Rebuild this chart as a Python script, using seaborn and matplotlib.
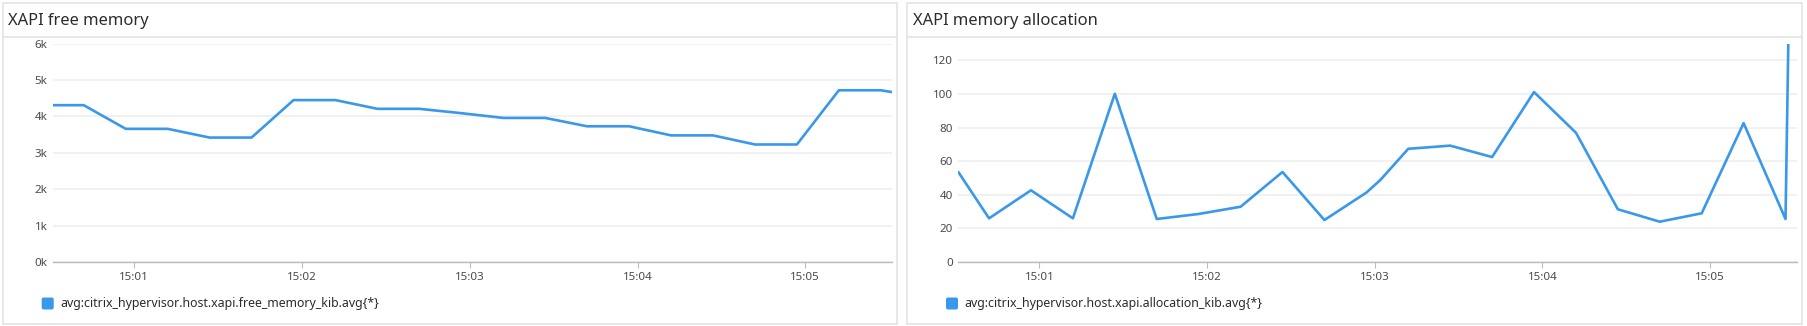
import matplotlib
matplotlib.use("Agg")
import matplotlib.pyplot as plt
import matplotlib.dates as mdates
from matplotlib.patches import FancyBboxPatch, Rectangle
from matplotlib.lines import Line2D
from matplotlib.transforms import IdentityTransform
from matplotlib.ticker import FuncFormatter
import pandas as pd
import seaborn as sns

# ---------------- data ----------------
base = "2024-01-01 15:00:00"
free_secs = [31, 42, 57, 72, 87, 102, 117, 132, 147, 162, 177, 192, 207,
             222, 237, 252, 267, 282, 297, 312, 327, 331]
free_kib = [4310, 4310, 3660, 3660, 3420, 3420, 4450, 4450, 4210, 4210, 4090,
            3960, 3960, 3730, 3730, 3480, 3480, 3230, 3230, 4720, 4720, 4670]

alloc_secs = [31, 42, 57, 72, 87, 102, 117, 132, 147, 162, 177, 182, 192,
              207, 222, 237, 252, 267, 282, 297, 312, 327, 328]
alloc_kib = [53.6, 26.0, 42.7, 26.0, 100.2, 25.6, 28.6, 32.9, 53.6, 25.0, 41.3,
             48.8, 67.4, 69.3, 62.5, 101.2, 77.0, 31.4, 24.0, 29.0, 82.7, 25.6, 130]

titles = ["XAPI free memory", "XAPI memory allocation"]
legend_labels = ["avg:citrix_hypervisor.host.xapi.free_memory_kib.avg{*}",
                 "avg:citrix_hypervisor.host.xapi.allocation_kib.avg{*}"]
free_yticks = [0, 1000, 2000, 3000, 4000, 5000, 6000]
alloc_yticks = [0, 20, 40, 60, 80, 100, 120]

# ---------------- style ----------------
sns.set_theme(style="white")
plt.rcParams["font.family"] = ["Noto Sans", "DejaVu Sans"]

LINE = "#3a98ea"
GRID = "#eeeeee"
BORDER = "#e2e2ea"
TXT = "#2c2c2c"
TICK = "#4a4a4a"

W, H = 1808, 326
fig = plt.figure(figsize=(W / 100, H / 100), dpi=100)
fig.patch.set_facecolor("white")

def fx(px):
    return px / W

def fy(py_from_top):
    return (H - py_from_top) / H

t0 = pd.Timestamp(base)
xlim = (t0 + pd.Timedelta(seconds=31), t0 + pd.Timedelta(seconds=331))

panels = [
    dict(px0=3, px1=897, ax_l=53, ax_r=892, title_x=8, leg_x=41.7,
         secs=free_secs, vals=free_kib, yticks=free_yticks, ylim=(0, 6000),
         fmt=lambda v, p: f"{int(round(v / 1000))}k"),
    dict(px0=907, px1=1802, ax_l=958.3, ax_r=1796.7, title_x=913, leg_x=946,
         secs=alloc_secs, vals=alloc_kib, yticks=alloc_yticks, ylim=(0, 130),
         fmt=lambda v, p: f"{int(v)}"),
]

ax_top, ax_bot = 43.7, 262.0

for i, p in enumerate(panels):
    # panel frame
    fig.add_artist(Rectangle((fx(p["px0"]), fy(323.5)), fx(p["px1"] - p["px0"]),
                             (323.5 - 3) / H, transform=fig.transFigure,
                             facecolor="none", edgecolor=BORDER, lw=1.2))
    fig.add_artist(Line2D([fx(p["px0"]), fx(p["px1"])], [fy(37.3), fy(37.3)],
                          transform=fig.transFigure, color=BORDER, lw=1.2))
    fig.text(fx(p["title_x"]), fy(21), titles[i], fontsize=11.9, color=TXT,
             ha="left", va="center")

    ax = fig.add_axes([fx(p["ax_l"]), fy(ax_bot), fx(p["ax_r"] - p["ax_l"]),
                       (ax_bot - ax_top) / H])
    df = pd.DataFrame({
        "time": [t0 + pd.Timedelta(seconds=s) for s in p["secs"]],
        "value": p["vals"],
    })
    sns.lineplot(data=df, x="time", y="value", ax=ax, color=LINE, lw=1.9,
                 legend=False)
    ax.set_xlim(*xlim)
    ax.set_ylim(*p["ylim"])
    ax.set_yticks(p["yticks"])
    ax.yaxis.set_major_formatter(FuncFormatter(p["fmt"]))
    ax.xaxis.set_major_locator(mdates.MinuteLocator())
    ax.xaxis.set_major_formatter(mdates.DateFormatter("%H:%M"))
    ax.set_xlabel("")
    ax.set_ylabel("")
    ax.grid(axis="y", color=GRID, lw=1.1)
    ax.grid(axis="x", visible=False)
    for s in ["top", "right", "left"]:
        ax.spines[s].set_visible(False)
    ax.spines["bottom"].set_color("#bcbcbc")
    ax.spines["bottom"].set_linewidth(1.0)
    ax.tick_params(axis="y", length=0, pad=4, labelsize=8.3, labelcolor=TICK)
    ax.tick_params(axis="x", length=4, width=0.8, color="#bcbcbc", pad=3,
                   labelsize=8.3, labelcolor=TICK, bottom=True)
    ax.set_facecolor("none")

    # legend swatch + label
    sq = FancyBboxPatch((p["leg_x"], H - 309.5), 12, 12,
                        boxstyle="round,pad=0,rounding_size=2",
                        transform=IdentityTransform(), facecolor=LINE,
                        edgecolor="none")
    fig.add_artist(sq)
    fig.text(fx(p["leg_x"] + 18.5), fy(303.5), legend_labels[i], fontsize=8.9,
             color=TXT, ha="left", va="center")

fig.savefig("out.png", dpi=100, facecolor="white")
